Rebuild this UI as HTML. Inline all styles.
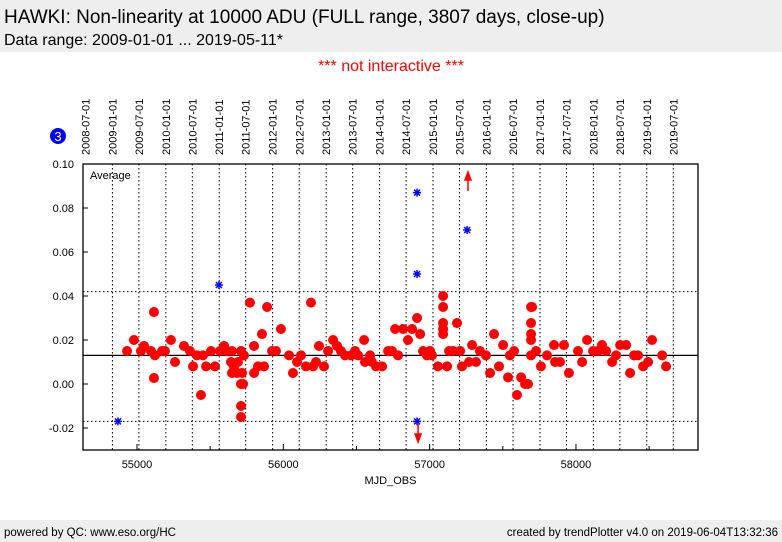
<!DOCTYPE html>
<html><head><meta charset="utf-8"><style>
body{margin:0;width:782px;height:542px;background:#fff;font-family:"Liberation Sans",sans-serif;overflow:hidden;position:relative}
.hdr{position:absolute;left:0;top:0;width:782px;height:52px;background:#eeeeee}
.t1{position:absolute;left:4px;top:7px;font-size:19px;color:#000}
.t2{position:absolute;left:4px;top:32px;font-size:16px;color:#000}
.ni{position:absolute;left:0;width:782px;top:58px;text-align:center;color:#f00;font-size:16px}
.ftr{position:absolute;left:0;top:520px;width:782px;height:22px;background:#eeeeee;font-size:11.5px}
</style></head><body>
<div class="hdr">
<div class="t1">HAWKI: Non-linearity at 10000 ADU (FULL range, 3807 days, close-up)</div>
<div class="t2">Data range: 2009-01-01 ... 2019-05-11*</div>
</div>
<div class="ni">*** not interactive ***</div>
<svg id="chart" width="782" height="520" style="position:absolute;left:0;top:0"></svg>
<div class="ftr">
<span style="position:absolute;left:4px;top:7px">powered by QC: www.eso.org/HC</span>
<span style="position:absolute;right:4px;top:7px">created by trendPlotter v4.0 on 2019-06-04T13:32:36</span>
</div>
<script>
const mjd=[54932,54979,55027,55048,55096,55116,55116,55123,55171,55191,55232,55260,55321,55362,55383,55410,55437,55451,55472,55506,55533,55567,55595,55615,55642,55649,55649,55663,55684,55690,55711,55711,55711,55711,55725,55718,55731,55772,55800,55800,55827,55854,55868,55889,55923,55950,55984,56039,56066,56094,56121,56155,56189,56203,56223,56244,56278,56306,56340,56367,56394,56422,56463,56490,56511,56552,56558,56593,56606,56634,56675,56716,56743,56764,56784,56818,56852,56880,56914,56935,56955,56982,57003,57016,57057,57092,57092,57092,57092,57092,57119,57133,57160,57187,57208,57221,57269,57290,57317,57344,57385,57413,57440,57474,57502,57536,57549,57577,57597,57625,57652,57672,57693,57693,57693,57693,57700,57693,57727,57761,57802,57850,57857,57891,57918,57952,58014,58042,58076,58117,58151,58178,58206,58247,58274,58302,58343,58370,58397,58424,58459,58493,58520,58589,58616];
const vals=[.015,.020,.015,.0173,.015,.0327,.0027,.013,.015,.015,.020,.010,.0173,.015,.008,.013,-.005,.013,.008,.015,.008,.015,.0173,.015,.010,.015,.005,.008,.005,.010,.015,0,-.010,-.015,0,.005,.013,.037,.005,.0173,.008,.0227,.008,.035,.015,.015,.025,.013,.005,.010,.013,.008,.037,.008,.010,.0173,.008,.015,.020,.0173,.015,.013,.013,.015,.013,.020,.010,.013,.010,.008,.008,.015,.015,.025,.013,.025,.020,.025,.030,.0227,.015,.013,.015,.013,.008,.0227,.025,.0277,.035,.040,.008,.015,.015,.0277,.015,.008,.010,.0177,.010,.015,.013,.005,.0227,.008,.0177,.003,.013,.015,-.005,.003,0,0,.035,.0277,.0227,.020,.035,.013,.015,.008,.013,.0177,.010,.010,.0177,.005,.015,.010,.020,.015,.015,.0177,.015,.010,.013,.0177,.0177,.005,.013,.013,.008,.010,.020,.013,.008];
const starMjd=[54870,55560,56914,56914,57256,56914];
const starVals=[-.017,.045,.087,.050,.070,-.017];
const upArrowMjd=[57262];
const downArrowMjd=[56921];
const avgVal=0.013;
const limVals=[0.042,-0.017];
const xTicks=[55000,56000,57000,58000];
const yTicks=[-0.02,0,0.02,0.04,0.06,0.08,0.10];
const dateLabels=["2008-07-01","2009-01-01","2009-07-01","2010-01-01","2010-07-01","2011-01-01","2011-07-01","2012-01-01","2012-07-01","2013-01-01","2013-07-01","2014-01-01","2014-07-01","2015-01-01","2015-07-01","2016-01-01","2016-07-01","2017-01-01","2017-07-01","2018-01-01","2018-07-01","2019-01-01","2019-07-01"];
const L=83,R=698,T=164,B=450,X0=54631,X1=58834,Y0=-0.03,Y1=0.10;
const sx=m=>L+(m-X0)/(X1-X0)*(R-L);
const sy=v=>B-(v-Y0)/(Y1-Y0)*(B-T);
const NS="http://www.w3.org/2000/svg",svg=document.getElementById('chart');
function mk(t,a,p){const e=document.createElementNS(NS,t);for(const k in a)e.setAttribute(k,a[k]);(p||svg).appendChild(e);return e;}
// badge
let g=mk('circle',{cx:58,cy:136,r:8,fill:'#0000ff'});


let bt=mk('text',{x:58,y:141,'text-anchor':'middle','font-size':13,fill:'#fff','font-family':'Liberation Sans'});bt.textContent='3';


// date gridlines & labels
dateLabels.forEach(d=>{const m=Date.parse(d+'T00:00:00Z')/86400000+40587;const x=sx(m);
 if(x>L+3){let l=mk('line',{x1:x,x2:x,y1:T,y2:B,stroke:'#000','stroke-width':1,'stroke-dasharray':'1.5,2.5'});
 
 }
 let t=mk('text',{x:0,y:0,'font-size':11,'font-family':'Liberation Sans',transform:`translate(${x+4},155) rotate(-90)`});t.textContent=d;
 
 });
limVals.forEach(v=>{let l=mk('line',{x1:L,x2:R,y1:sy(v),y2:sy(v),stroke:'#000','stroke-dasharray':'1.5,2.5'});
 
 });
let av=mk('line',{x1:L,x2:R,y1:sy(avgVal),y2:sy(avgVal),stroke:'#000','stroke-width':1.2});


// frame
let fr=mk('rect',{x:L,y:T,width:R-L,height:B-T,fill:'none',stroke:'#000','stroke-width':1.3});


for(let m=54500;m<=58900;m+=500){if(m<X0||m>X1)continue;const x=sx(m),big=m%1000==0;
 let tk=mk('line',{x1:x,x2:x,y1:B,y2:B-(big?6:4),stroke:'#000'});
 
 }
xTicks.forEach(m=>{let t=mk('text',{x:sx(m),y:B+18,'text-anchor':'middle','font-size':11,'font-family':'Liberation Sans'});t.textContent=m;
 
 });
yTicks.forEach(v=>{let tk=mk('line',{x1:L,x2:L+5,y1:sy(v),y2:sy(v),stroke:'#000'});
 
 
 let t=mk('text',{x:L-9,y:sy(v)+4,'text-anchor':'end','font-size':11,'font-family':'Liberation Sans'});t.textContent=v.toFixed(2);
 
 });
let xt=mk('text',{x:(L+R)/2,y:484,'text-anchor':'middle','font-size':11,'font-family':'Liberation Sans'});xt.textContent='MJD_OBS';


let lg=mk('text',{x:90,y:179,'font-size':11,'font-family':'Liberation Sans'});lg.textContent='Average';


mjd.forEach((m,i)=>{let c=mk('circle',{cx:sx(m),cy:sy(vals[i]),r:5,fill:'#ff0000'});
 
 });
starMjd.forEach((m,i)=>{const x=sx(m),y=sy(starVals[i]);
 let s=mk('path',{d:`M${x-4},${y}H${x+4}M${x},${y-4}V${y+4}M${x-3},${y-3}L${x+3},${y+3}M${x-3},${y+3}L${x+3},${y-3}`,stroke:'#0000ff','stroke-width':1.5});
 
 });
upArrowMjd.forEach(m=>{const x=sx(m);
 let a=mk('path',{d:`M${x},191V178M${x-3},180L${x},172L${x+3},180Z`,stroke:'#ff0000',fill:'#ff0000','stroke-width':1.5});
 
 });
downArrowMjd.forEach(m=>{const x=sx(m);
 let a=mk('path',{d:`M${x},423V436M${x-3},434L${x},442L${x+3},434Z`,stroke:'#ff0000',fill:'#ff0000','stroke-width':1.5});
 
 });
</script>
</body></html>
